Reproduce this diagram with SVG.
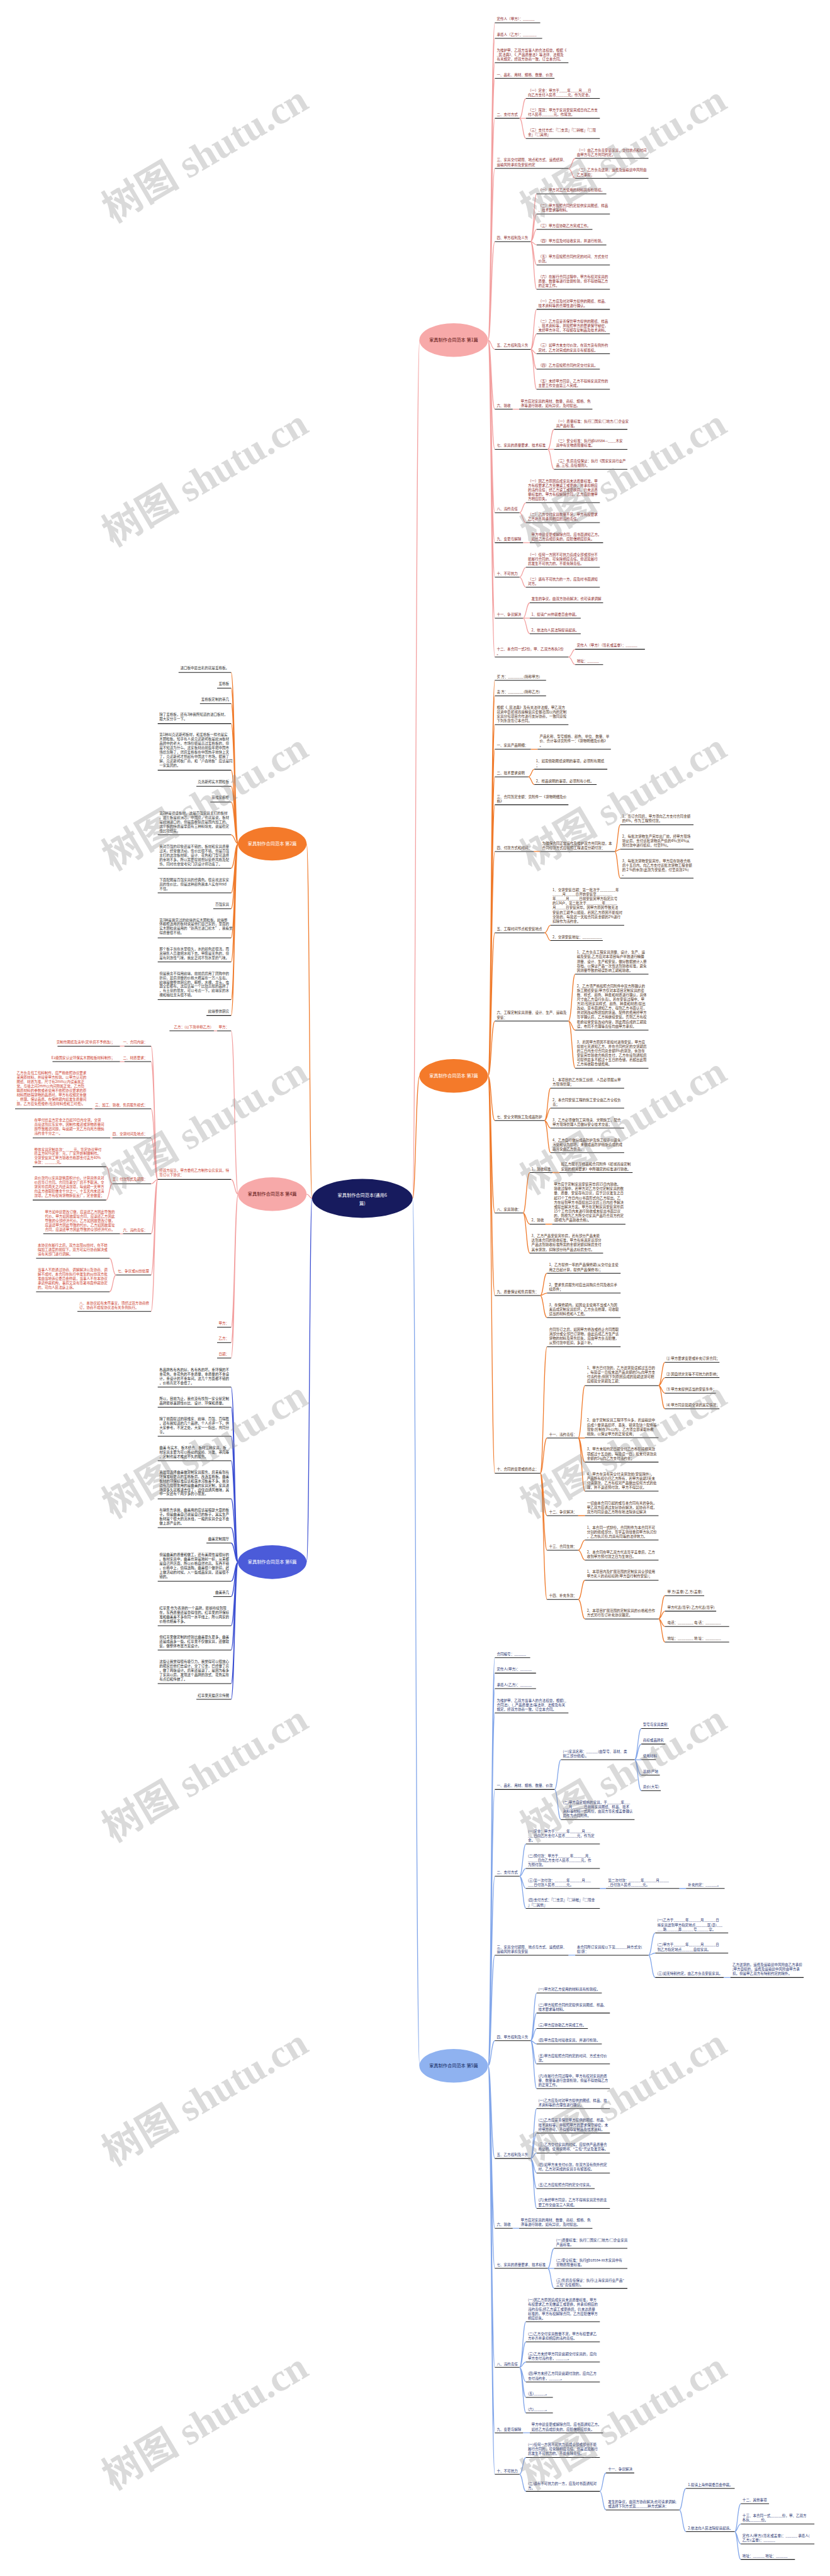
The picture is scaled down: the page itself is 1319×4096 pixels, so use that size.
<svg xmlns="http://www.w3.org/2000/svg" width="1319" height="4096" viewBox="0 0 1319 4096">
<style>
.t{font-family:"Noto Sans CJK SC","Liberation Sans",sans-serif;font-size:10.8px}
.A{fill:#8c1d1d}.B{fill:#4b2c14}.C{fill:#1e3170}.P{fill:#333}.R{fill:#cc3a2a}.K{fill:#222}
.e{text-anchor:end}
.u{stroke:#1a1a1a;stroke-width:2;fill:none}
.ca{stroke:#f3a0a0;stroke-width:2.5;fill:none}
.cb{stroke:#f07b2c;stroke-width:2.5;fill:none}
.cc{stroke:#82a6ea;stroke-width:2.5;fill:none}
.cd{stroke:#3c4fd2;stroke-width:2.5;fill:none}
.wm{font-family:"Liberation Serif","Noto Sans CJK SC",serif;font-size:120px;font-weight:bold;fill:#888;opacity:.3}
.nt{font-family:"Noto Sans CJK SC","Liberation Sans",sans-serif;font-size:14px;text-anchor:middle}
</style>
<rect width="1319" height="4096" fill="#fff"/>
<g transform="scale(0.515)">

<g id="links-root">
<path class="ca" d="M1273 3700C1283 3700 1283 1050 1295 1050"/>
<path class="cb" d="M1273 3700C1283 3700 1283 3322 1295 3322"/>
<path class="cc" d="M1273 3700C1283 3700 1283 6378 1295 6378"/>
<path class="cb" d="M963 3700C955 3700 955 2605 946 2605"/>
<path class="ca" d="M963 3700C955 3700 955 3687 946 3687"/>
<path class="cd" d="M963 3700C955 3700 955 4823 946 4823"/>
</g>

<g id="links-a">
<path class="ca" d="M1506 1050C1516 1050 1516 70.4 1527 70.4M1506 1050C1516 1050 1516 118.4 1527 118.4M1506 1050C1516 1050 1516 193.9 1527 193.9M1506 1050C1516 1050 1516 241.8 1527 241.8M1506 1050C1516 1050 1516 365.3 1527 365.3M1506 1050C1516 1050 1516 520 1527 520M1506 1050C1516 1050 1516 746 1527 746M1506 1050C1516 1050 1516 1078.6 1527 1078.6M1506 1050C1516 1050 1516 1263.3 1527 1263.3M1506 1050C1516 1050 1516 1387.3 1527 1387.3M1506 1050C1516 1050 1516 1583.2 1527 1583.2M1506 1050C1516 1050 1516 1675.5 1527 1675.5M1506 1050C1516 1050 1516 1782 1527 1782M1506 1050C1516 1050 1516 1908.7 1527 1908.7M1506 1050C1516 1050 1516 2028.6 1527 2028.6"/>
<path class="ca" stroke-width="2" d="M1603 365.3C1613 365.3 1613 304 1623 304M1603 365.3H1623M1603 365.3C1613 365.3 1613 427.6 1623 427.6M1754 520C1765 520 1765 488.8 1775 488.8M1754 520C1765 520 1765 550.5 1775 550.5M1637 746C1647 746 1647 598.5 1656 598.5M1637 746C1647 746 1647 660.7 1656 660.7M1637 746C1647 746 1647 708.2 1656 708.2M1637 746C1647 746 1647 756.1 1656 756.1M1637 746C1647 746 1647 817.9 1656 817.9M1637 746C1647 746 1647 893.4 1656 893.4M1637 1078.6C1647 1078.6 1647 955.1 1656 955.1M1637 1078.6C1647 1078.6 1647 1030.6 1656 1030.6M1637 1078.6C1647 1078.6 1647 1092.3 1656 1092.3M1637 1078.6C1647 1078.6 1647 1139.8 1656 1139.8M1637 1078.6C1647 1078.6 1647 1202 1656 1202M1582 1263.3H1602M1690 1387.3C1700 1387.3 1700 1325.5 1710 1325.5M1690 1387.3H1710M1690 1387.3C1700 1387.3 1700 1449 1710 1449M1603 1583.2C1613 1583.2 1613 1552 1623 1552M1603 1583.2C1613 1583.2 1613 1613.8 1623 1613.8M1614 1675.5H1635M1603 1782C1613 1782 1613 1751.5 1623 1751.5M1603 1782C1613 1782 1613 1813.3 1623 1813.3M1614 1908.7C1624 1908.7 1624 1861.2 1635 1861.2M1614 1908.7H1635M1614 1908.7C1624 1908.7 1624 1956.6 1635 1956.6M1754 2028.6C1765 2028.6 1765 2004.6 1775 2004.6M1754 2028.6C1765 2028.6 1765 2052 1775 2052"/>
</g>

<g id="links-b">
<path class="cb" d="M1506 3322C1516 3322 1516 2100.5 1527 2100.5M1506 3322C1516 3322 1516 2148.5 1527 2148.5M1506 3322C1516 3322 1516 2237.2 1527 2237.2M1506 3322C1516 3322 1516 2313.3 1527 2313.3M1506 3322C1516 3322 1516 2398.4 1527 2398.4M1506 3322C1516 3322 1516 2484.7 1527 2484.7M1506 3322C1516 3322 1516 2629 1527 2629M1506 3322C1516 3322 1516 2880 1527 2880M1506 3322C1516 3322 1516 3152.6 1527 3152.6M1506 3322C1516 3322 1516 3459.7 1527 3459.7M1506 3322C1516 3322 1516 3745 1527 3745M1506 3322C1516 3322 1516 4000 1527 4000M1506 3322C1516 3322 1516 4548.5 1527 4548.5"/>
<path class="cb" stroke-width="2" d="M1638 2313.3H1659M1630 2398.4C1640 2398.4 1640 2375 1649 2375M1630 2398.4C1640 2398.4 1640 2422.4 1649 2422.4M1647 2629H1667M1897 2629C1906 2629 1906 2546.4 1914 2546.4M1897 2629C1906 2629 1906 2622 1914 2622M1897 2629C1906 2629 1906 2711.2 1914 2711.2M1680 2880C1690 2880 1690 2856.6 1699 2856.6M1680 2880C1690 2880 1690 2904 1699 2904M1754 3152.6C1765 3152.6 1765 3007.7 1775 3007.7M1754 3152.6C1765 3152.6 1765 3180.6 1775 3180.6M1754 3152.6C1765 3152.6 1765 3298 1775 3298M1680 3459.7C1690 3459.7 1690 3359.7 1699 3359.7M1680 3459.7C1690 3459.7 1690 3421.4 1699 3421.4M1680 3459.7C1690 3459.7 1690 3483.2 1699 3483.2M1680 3459.7C1690 3459.7 1690 3558.7 1699 3558.7M1614 3745C1624 3745 1624 3620.4 1635 3620.4M1614 3745C1624 3745 1624 3779.6 1635 3779.6M1614 3745C1624 3745 1624 3868.9 1635 3868.9M1705 3620.4H1726M1683 3779.6H1704M1667 4000C1677 4000 1677 3931 1688 3931M1667 4000C1677 4000 1677 3992.3 1688 3992.3M1667 4000C1677 4000 1677 4067.9 1688 4067.9M1667 4548.5C1677 4548.5 1677 4158.2 1688 4158.2M1667 4548.5C1677 4548.5 1677 4439.8 1688 4439.8M1667 4548.5C1677 4548.5 1677 4679.6 1688 4679.6M1667 4548.5C1677 4548.5 1677 4786.2 1688 4786.2M1667 4548.5C1677 4548.5 1677 4938.3 1688 4938.3M1784 4439.8C1795 4439.8 1795 4278 1805 4278M1784 4439.8H1805M1784 4439.8C1795 4439.8 1795 4514.3 1805 4514.3M1784 4439.8C1795 4439.8 1795 4604 1805 4604M2032 4278C2042 4278 2042 4206.1 2052 4206.1M2032 4278C2042 4278 2042 4253.6 2052 4253.6M2032 4278C2042 4278 2042 4301.5 2052 4301.5M2032 4278C2042 4278 2042 4349.5 2052 4349.5M1784 4679.6H1805M1784 4786.2C1795 4786.2 1795 4755 1805 4755M1784 4786.2C1795 4786.2 1795 4816.8 1805 4816.8M1784 4938.3C1795 4938.3 1795 4879 1805 4879M1784 4938.3C1795 4938.3 1795 4998.5 1805 4998.5M2032 4998.5C2042 4998.5 2042 4926.5 2052 4926.5M2032 4998.5C2042 4998.5 2042 4974.5 2052 4974.5M2032 4998.5C2042 4998.5 2042 5022 2052 5022M2032 4998.5C2042 4998.5 2042 5070 2052 5070"/>
</g>

<g id="links-c">
<path class="cc" d="M1506 6378C1516 6378 1516 5117.9 1527 5117.9M1506 6378C1516 6378 1516 5165.8 1527 5165.8M1506 6378C1516 6378 1516 5213.8 1527 5213.8M1506 6378C1516 6378 1516 5288.8 1527 5288.8M1506 6378C1516 6378 1516 5525 1527 5525M1506 6378C1516 6378 1516 5792.9 1527 5792.9M1506 6378C1516 6378 1516 6036.7 1527 6036.7M1506 6378C1516 6378 1516 6300.5 1527 6300.5M1506 6378C1516 6378 1516 6664.3 1527 6664.3M1506 6378C1516 6378 1516 6880 1527 6880M1506 6378C1516 6378 1516 7003.6 1527 7003.6M1506 6378C1516 6378 1516 7309.4 1527 7309.4M1506 6378C1516 6378 1516 7511.5 1527 7511.5M1506 6378C1516 6378 1516 7639.5 1527 7639.5"/>
<path class="cc" stroke-width="2" d="M1711 5525C1721 5525 1721 5433.2 1731 5433.2M1711 5525C1721 5525 1721 5617.9 1731 5617.9M1958 5433.2C1968 5433.2 1968 5336.7 1979 5336.7M1958 5433.2C1968 5433.2 1968 5384.7 1979 5384.7M1958 5433.2H1979M1958 5433.2C1968 5433.2 1968 5480.6 1979 5480.6M1958 5433.2C1968 5433.2 1968 5528.6 1979 5528.6M1603 5792.9C1613 5792.9 1613 5693.4 1623 5693.4M1603 5792.9C1613 5792.9 1613 5768.9 1623 5768.9M1603 5792.9C1613 5792.9 1613 5830.6 1623 5830.6M1603 5792.9C1613 5792.9 1613 5892.3 1623 5892.3M1851 5830.6H1870M2096 5830.6H2117M1754 6036.7H1775M2001 6036.7C2011 6036.7 2011 5967.9 2022 5967.9M2001 6036.7C2011 6036.7 2011 6030.1 2022 6030.1M2001 6036.7C2011 6036.7 2011 6105.6 2022 6105.6M2233 6105.6H2254M1637 6300.5C1647 6300.5 1647 6153.6 1656 6153.6M1637 6300.5C1647 6300.5 1647 6215.3 1656 6215.3M1637 6300.5C1647 6300.5 1647 6263.3 1656 6263.3M1637 6300.5C1647 6300.5 1647 6310.7 1656 6310.7M1637 6300.5C1647 6300.5 1647 6372.5 1656 6372.5M1637 6300.5C1647 6300.5 1647 6448.5 1656 6448.5M1637 6664.3C1647 6664.3 1647 6510.2 1656 6510.2M1637 6664.3C1647 6664.3 1647 6585.7 1656 6585.7M1637 6664.3C1647 6664.3 1647 6647.4 1656 6647.4M1637 6664.3C1647 6664.3 1647 6709.2 1656 6709.2M1637 6664.3C1647 6664.3 1647 6757.1 1656 6757.1M1637 6664.3C1647 6664.3 1647 6818.4 1656 6818.4M1582 6880H1602M1690 7003.6C1700 7003.6 1700 6941.8 1710 6941.8M1690 7003.6H1710M1690 7003.6C1700 7003.6 1700 7065.3 1710 7065.3M1603 7309.4C1613 7309.4 1613 7168.4 1623 7168.4M1603 7309.4C1613 7309.4 1613 7230.6 1623 7230.6M1603 7309.4C1613 7309.4 1613 7292.7 1623 7292.7M1603 7309.4C1613 7309.4 1613 7354.3 1623 7354.3M1603 7309.4C1613 7309.4 1613 7402 1623 7402M1603 7309.4C1613 7309.4 1613 7449.8 1623 7449.8M1614 7511.5H1635M1603 7639.5C1613 7639.5 1613 7587.4 1623 7587.4M1603 7639.5C1613 7639.5 1613 7692 1623 7692M1851 7692C1860 7692 1860 7635.2 1870 7635.2M1851 7692C1860 7692 1860 7749.4 1870 7749.4M2096 7749.4C2106 7749.4 2106 7683 2117 7683M2096 7749.4C2106 7749.4 2106 7816.7 2117 7816.7M2267 7816.7C2276 7816.7 2276 7730.3 2286 7730.3M2267 7816.7C2276 7816.7 2276 7792.8 2286 7792.8M2267 7816.7C2276 7816.7 2276 7854.4 2286 7854.4M2267 7816.7C2276 7816.7 2276 7902.2 2286 7902.2"/>
</g>

<g id="links-l2">
<path class="cb" d="M735 2605C724 2605 724 2076.2 713 2076.2M735 2605C724 2605 724 2124.7 713 2124.7M735 2605C724 2605 724 2172.2 713 2172.2M735 2605C724 2605 724 2234.2 713 2234.2M735 2605C724 2605 724 2377.9 713 2377.9M735 2605C724 2605 724 2427.5 713 2427.5M735 2605C724 2605 724 2476 713 2476M735 2605C724 2605 724 2577.3 713 2577.3M735 2605C724 2605 724 2680.6 713 2680.6M735 2605C724 2605 724 2757 713 2757M735 2605C724 2605 724 2805.6 713 2805.6M735 2605C724 2605 724 2895.5 713 2895.5M735 2605C724 2605 724 2969.9 713 2969.9M735 2605C724 2605 724 3086.6 713 3086.6M735 2605C724 2605 724 3135.2 713 3135.2"/>
</g>
<g id="links-l4">
<path class="ca" d="M735 3687C724 3687 724 3182.7 713 3182.7M735 3687C724 3687 724 3641.5 713 3641.5M735 3687C724 3687 724 4097.7 713 4097.7M735 3687C724 3687 724 4145.2 713 4145.2M735 3687C724 3687 724 4192.8 713 4192.8"/>
<path class="ca" stroke-width="2" d="M670 3182.7H660M487 3641.5C477 3641.5 477 3230 466 3230M487 3641.5C477 3641.5 477 3277.8 466 3277.8M487 3641.5C477 3641.5 477 3423.4 466 3423.4M487 3641.5C477 3641.5 477 3513.3 466 3513.3M487 3641.5C477 3641.5 477 3655 466 3655M487 3641.5C477 3641.5 477 3809.4 466 3809.4M487 3641.5C477 3641.5 477 3936.5 466 3936.5M487 3641.5C477 3641.5 477 4049.1 466 4049.1M384 3230H370M384 3277.8H370M292.6 3423.4H285M347 3513.3H340M347 3655C337 3655 337 3602.2 327.5 3602.2M347 3655C337 3655 337 3705.1 327.5 3705.1M379.6 3809.4H370M358 3936.5C348 3936.5 348 3884.9 338 3884.9M358 3936.5C348 3936.5 348 3988.2 338 3988.2"/>
</g>
<g id="links-l6">
<path class="cd" d="M735 4823C724 4823 724 4282.7 713 4282.7M735 4823C724 4823 724 4344.6 713 4344.6M735 4823C724 4823 724 4434.5 713 4434.5M735 4823C724 4823 724 4510 713 4510M735 4823C724 4823 724 4627.7 713 4627.7M735 4823C724 4823 724 4716.6 713 4716.6M735 4823C724 4823 724 4764.1 713 4764.1M735 4823C724 4823 724 4881.9 713 4881.9M735 4823C724 4823 724 4929.4 713 4929.4M735 4823C724 4823 724 5019.3 713 5019.3M735 4823C724 4823 724 5094.7 713 5094.7M735 4823C724 4823 724 5198.1 713 5198.1M735 4823C724 4823 724 5246.6 713 5246.6"/>
</g>

<g id="root"><ellipse cx="1118" cy="3700" rx="155" ry="60" fill="#171b5e"/><text class="nt" x="1118" y="3695" fill="#fff" font-size="20">家具制作合同范本(通用6<tspan x="1118" dy="26">篇)</tspan></text></g>
<g id="n1"><ellipse cx="1400" cy="1050" rx="106" ry="52" fill="#f7a9a9"/><text class="nt" x="1400" y="1055" fill="#5a1010">家具制作合同范本 第1篇</text></g>
<g id="n3"><ellipse cx="1400" cy="3322" rx="106" ry="52" fill="#f47a2a"/><text class="nt" x="1400" y="3327" fill="#fff">家具制作合同范本 第3篇</text></g>
<g id="n5"><ellipse cx="1400" cy="6378" rx="106" ry="52" fill="#8fb2f0"/><text class="nt" x="1400" y="6383" fill="#14285e">家具制作合同范本 第5篇</text></g>
<g id="n2"><ellipse cx="840" cy="2605" rx="106" ry="52" fill="#f47a2a"/><text class="nt" x="840" y="2610" fill="#fff">家具制作合同范本 第2篇</text></g>
<g id="n4"><ellipse cx="840" cy="3687" rx="106" ry="52" fill="#f7a9a9"/><text class="nt" x="840" y="3692" fill="#5a1010">家具制作合同范本 第4篇</text></g>
<g id="n6"><ellipse cx="840" cy="4823" rx="106" ry="52" fill="#4b5bd9"/><text class="nt" x="840" y="4828" fill="#fff">家具制作合同范本 第6篇</text></g>

<g id="sec-a">
<g id="a1"><text class="t A" x="1533" y="62.7">定作人（甲方）：______</text><path class="u" d="M1527 70.4H1667"/></g>
<g id="a2"><text class="t A" x="1533" y="111">承揽人（乙方）：_______</text><path class="u" d="M1527 118.4H1673"/></g>
<g id="a3"><text class="t A" x="1533" y="158.6">为维护甲、乙双方当事人的合法权益，根据《<tspan x="1533" dy="13.8">_民法典》、《_产品质量法》等法律、法规及</tspan><tspan x="1533" dy="13.8">有关规定，经双方协商一致，订立本合同。</tspan></text><path class="u" d="M1527 193.9H1754"/></g>
<g id="a4"><text class="t A" x="1533" y="234.6">一、品名、用材、规格、数量、价款</text><path class="u" d="M1527 241.8H1711"/></g>
<g id="a5"><text class="t A" x="1533" y="358">二、支付方式</text><path class="u" d="M1527 365.3H1603"/></g>
<g id="a5a"><text class="t A" x="1629" y="282.6">（一）定金：甲方于____年____月___日<tspan x="1629" dy="13.8">向乙方支付人民币______元，作为定金。</tspan></text><path class="u" d="M1623 304H1851"/></g>
<g id="a5b"><text class="t A" x="1629" y="344.3">（二）尾款：甲方于家具安装完成日向乙方支<tspan x="1629" dy="13.8">付人民币______元，作尾款。</tspan></text><path class="u" d="M1623 365.3H1851"/></g>
<g id="a5c"><text class="t A" x="1629" y="406">（三）支付方式：『□支票』『□转帐』『□现<tspan x="1629" dy="13.8">金』『□其他』</tspan></text><path class="u" d="M1623 427.6H1851"/></g>
<g id="a6"><text class="t A" x="1533" y="498">三、家具交付期限、地点和方式、运费结算、<tspan x="1533" dy="13.8">运输风险承担及安装约定</tspan></text><path class="u" d="M1527 520H1754"/></g>
<g id="a6a"><text class="t A" x="1780" y="467.3">（一）由乙方负责安装家具，交付地点和时间<tspan x="1780" dy="13.8">由甲方与乙方共同约定。</tspan></text><path class="u" d="M1775 488.8H2001"/></g>
<g id="a6b"><text class="t A" x="1780" y="529">（二）乙方负责送货，运费及运输途中风险由<tspan x="1780" dy="13.8">乙方承担；</tspan></text><path class="u" d="M1775 550.5H2001"/></g>
<g id="a7"><text class="t A" x="1533" y="738.7">四、甲方权利及义务</text><path class="u" d="M1527 746H1637"/></g>
<g id="a7a"><text class="t A" x="1661" y="590.7">（一）甲方对乙方使用的材料具有检验权。</text><path class="u" d="M1656 598.5H1871"/></g>
<g id="a7b"><text class="t A" x="1661" y="638.2">（二）甲方按照合同约定提供家具图纸、样品<tspan x="1661" dy="13.8">、技术要求等材料。</tspan></text><path class="u" d="M1656 660.7H1882"/></g>
<g id="a7c"><text class="t A" x="1661" y="700">（三）甲方应协助乙方完成工作。</text><path class="u" d="M1656 708.2H1828"/></g>
<g id="a7d"><text class="t A" x="1661" y="748.4">（四）甲方应及时接收家具，并进行检验。</text><path class="u" d="M1656 756.1H1871"/></g>
<g id="a7e"><text class="t A" x="1661" y="795.8">（五）甲方应按照合同约定的时间、方式支付<tspan x="1661" dy="13.8">价款。</tspan></text><path class="u" d="M1656 817.9H1882"/></g>
<g id="a7f"><text class="t A" x="1661" y="857.6">（六）在履行合同过程中，甲方有权对家具的<tspan x="1661" dy="13.8">质量、数量等进行监督检验，但不得妨碍乙方</tspan><tspan x="1661" dy="13.8">的正常工作。</tspan></text><path class="u" d="M1656 893.4H1882"/></g>
<g id="a8"><text class="t A" x="1533" y="1070.8">五、乙方权利及义务</text><path class="u" d="M1527 1078.6H1637"/></g>
<g id="a8a"><text class="t A" x="1661" y="933.6">（一）乙方应及时对甲方提供的图纸、样品、<tspan x="1661" dy="13.8">技术资料等的合理性进行确认。</tspan></text><path class="u" d="M1656 955.1H1882"/></g>
<g id="a8b"><text class="t A" x="1661" y="995.3">（二）乙方应妥善保管甲方提供的图纸、样品<tspan x="1661" dy="13.8">、技术资料等，并按照甲方的要求保守秘密，</tspan><tspan x="1661" dy="13.8">未经甲方许可，不得留存复制品及技术资料。</tspan></text><path class="u" d="M1656 1030.6H1882"/></g>
<g id="a8c"><text class="t A" x="1661" y="1070.8">（三）如甲方未支付价款，在双方没有例外约<tspan x="1661" dy="13.8">定时，乙方对完成的家具享有留置权。</tspan></text><path class="u" d="M1656 1092.3H1882"/></g>
<g id="a8d"><text class="t A" x="1661" y="1132.6">（四）乙方应按照合同约定交付家具。</text><path class="u" d="M1656 1139.8H1851"/></g>
<g id="a8e"><text class="t A" x="1661" y="1180.5">（五）未经甲方同意，乙方不得将家具定作的<tspan x="1661" dy="13.8">主要工作交由第三人完成。</tspan></text><path class="u" d="M1656 1202H1882"/></g>
<g id="a9"><text class="t A" x="1533" y="1255.5">六、验收</text><path class="u" d="M1527 1263.3H1582"/></g>
<g id="a9a"><text class="t A" x="1607" y="1241.8">甲方应对家具的用材、数量、商标、规格、色<tspan x="1607" dy="13.8">泽等进行验收，如有异议，及时提出。</tspan></text><path class="u" d="M1602 1263.3H1828"/></g>
<g id="a10"><text class="t A" x="1533" y="1379.5">七、家具的质量要求、技术标准</text><path class="u" d="M1527 1387.3H1690"/></g>
<g id="a10a"><text class="t A" x="1716" y="1304">（一）质量标准：执行□国家/□地方/□企业家<tspan x="1716" dy="13.8">具产品标准。</tspan></text><path class="u" d="M1710 1325.5H1936"/></g>
<g id="a10b"><text class="t A" x="1716" y="1365.7">（二）安全标准：执行gb18584—____木家<tspan x="1716" dy="13.8">具中有害物质限量标准。</tspan></text><path class="u" d="M1710 1387.3H1936"/></g>
<g id="a10c"><text class="t A" x="1716" y="1427.5">（三）售后责任保证：执行《国家家具行业产<tspan x="1716" dy="13.8">品_三包_责任规则》。</tspan></text><path class="u" d="M1710 1449H1936"/></g>
<g id="a11"><text class="t A" x="1533" y="1575.4">八、违约责任</text><path class="u" d="M1527 1583.2H1603"/></g>
<g id="a11a"><text class="t A" x="1629" y="1488.7">（一）因乙方原因造成家具未达质量标准，甲<tspan x="1629" dy="13.8">方有权要求乙方无偿返工或更换，并承担相应</tspan><tspan x="1629" dy="13.8">的违约责任；经乙方返工或更换后，仍未达质</tspan><tspan x="1629" dy="13.8">量标准的，甲方有权解除合同，乙方应赔偿甲</tspan><tspan x="1629" dy="13.8">方相应损失。</tspan></text><path class="u" d="M1623 1552H1851"/></g>
<g id="a11b"><text class="t A" x="1629" y="1592.8">（二）乙方交付家具数量不足，甲方有权要求<tspan x="1629" dy="13.8">乙方补齐并承担相应的违约责任。</tspan></text><path class="u" d="M1623 1613.8H1851"/></g>
<g id="a12"><text class="t A" x="1533" y="1667.8">九、变更与解除</text><path class="u" d="M1527 1675.5H1614"/></g>
<g id="a12a"><text class="t A" x="1640" y="1654">甲方中途变更或解除合同，应书面通知乙方。<tspan x="1640" dy="13.8">如给乙方造成损失的，应赔偿相应损失。</tspan></text><path class="u" d="M1635 1675.5H1861"/></g>
<g id="a13"><text class="t A" x="1533" y="1774.4">十、不可抗力</text><path class="u" d="M1527 1782H1603"/></g>
<g id="a13a"><text class="t A" x="1629" y="1715.7">（一）任何一方因不可抗力造成全部或部分不<tspan x="1629" dy="13.8">能履行合同的，可免除相应责任。但迟延履行</tspan><tspan x="1629" dy="13.8">后发生不可抗力的，不能免除责任。</tspan></text><path class="u" d="M1623 1751.5H1851"/></g>
<g id="a13b"><text class="t A" x="1629" y="1791.8">（二）遇有不可抗力的一方，应及时书面通知<tspan x="1629" dy="13.8">对方。</tspan></text><path class="u" d="M1623 1813.3H1851"/></g>
<g id="a14"><text class="t A" x="1533" y="1901">十一、争议解决</text><path class="u" d="M1527 1908.7H1614"/></g>
<g id="a14a"><text class="t A" x="1640" y="1853">发生的争议，由双方协商解决；也可请求调解</text><path class="u" d="M1635 1861.2H1861"/></g>
<g id="a14b"><text class="t A" x="1640" y="1901">1、提请广州仲裁委员会仲裁。</text><path class="u" d="M1635 1908.7H1792"/></g>
<g id="a14c"><text class="t A" x="1640" y="1949">2、依法向人民法院提请起诉。</text><path class="u" d="M1635 1956.6H1792"/></g>
<g id="a15"><text class="t A" x="1533" y="2007">十二、本合同一式2份，甲、乙双方各执1份<tspan x="1533" dy="13.8">。</tspan></text><path class="u" d="M1527 2028.6H1754"/></g>
<g id="a15a"><text class="t A" x="1780" y="1996.9">定作人（甲方）（签名或盖章）：______</text><path class="u" d="M1775 2004.6H1990"/></g>
<g id="a15b"><text class="t A" x="1780" y="2044.3">地址：______</text><path class="u" d="M1775 2052H1861"/></g>
</g>

<g id="sec-b">
<g id="b1"><text class="t B" x="1533" y="2092.8">买 方：________(简称甲方)</text><path class="u" d="M1527 2100.5H1685"/></g>
<g id="b2"><text class="t B" x="1533" y="2140.2">卖 方：________(简称乙方)</text><path class="u" d="M1527 2148.5H1685"/></g>
<g id="b3"><text class="t B" x="1533" y="2188.2">根据《_民法典》及有关法律法规，甲乙双方<tspan x="1533" dy="13.8">就资中县船城首座精装房套餐范围以内的定制</tspan><tspan x="1533" dy="13.8">家具分包项目合作进行友好协商，一致同意按</tspan><tspan x="1533" dy="13.8">下列条款签订本合同。</tspan></text><path class="u" d="M1527 2237.2H1754"/></g>
<g id="b4"><text class="t B" x="1533" y="2305.5">一、家具产品明细：</text><path class="u" d="M1527 2313.3H1638"/></g>
<g id="b4a"><text class="t B" x="1665" y="2277.5">产品名称、型号规格、颜色、单位、数量、单<tspan x="1665" dy="13.8">价、合计等详见附件一：《货物明细及价格》</tspan><tspan x="1665" dy="13.8">。</tspan></text><path class="u" d="M1659 2313.3H1885"/></g>
<g id="b5"><text class="t B" x="1533" y="2390.7">二、技术要求说明</text><path class="u" d="M1527 2398.4H1630"/></g>
<g id="b5a"><text class="t B" x="1654" y="2353.5">1、如需借助图纸说明的事项，必须附有图纸<tspan x="1654" dy="13.8">；</tspan></text><path class="u" d="M1649 2375H1874"/></g>
<g id="b5b"><text class="t B" x="1654" y="2415.2">2、样品说明的事项，必须附有小样。</text><path class="u" d="M1649 2422.4H1841"/></g>
<g id="b6"><text class="t B" x="1533" y="2463.2">三、合同暂定金额：见附件一《货物明细及价<tspan x="1533" dy="13.8">格》</tspan></text><path class="u" d="M1527 2484.7H1754"/></g>
<g id="b7"><text class="t B" x="1533" y="2621.3">四、付款方式和时间：</text><path class="u" d="M1527 2629H1647"/></g>
<g id="b7a"><text class="t B" x="1673" y="2607.6">为确保合同正常运作及维护双方共同利益，本<tspan x="1673" dy="13.8">合同付款方式应按照工程进度分期付款：</tspan></text><path class="u" d="M1667 2629H1897"/></g>
<g id="b7a1"><text class="t B" x="1920" y="2525">1、签订合同后，甲方须向乙方支付合同金额<tspan x="1920" dy="13.8">的4%，作为工程预付款。</tspan></text><path class="u" d="M1914 2546.4H2140"/></g>
<g id="b7a2"><text class="t B" x="1920" y="2586.7">2、每批次货物生产完毕出厂前，经甲方现场<tspan x="1920" dy="13.8">验证后，支付该批货物总产值的4%(另4%从</tspan><tspan x="1920" dy="13.8">预付款中进行抵扣，付至8%)。</tspan></text><path class="u" d="M1914 2622H2140"/></g>
<g id="b7a3"><text class="t B" x="1920" y="2662.2">3、每批次货物安装完毕，甲方应在验收合格<tspan x="1920" dy="13.8">后十五日内，向乙方支付该批次货物工程金额</tspan><tspan x="1920" dy="13.8">的２%的余款(此款为安装费，付至总款1%)</tspan><tspan x="1920" dy="13.8">。</tspan></text><path class="u" d="M1914 2711.2H2140"/></g>
<g id="b8"><text class="t B" x="1533" y="2872.4">五、工程时间节点和安装地点</text><path class="u" d="M1527 2880H1680"/></g>
<g id="b8a"><text class="t B" x="1705" y="2751.5">1、交货安装日期：第一批次于________年<tspan x="1705" dy="13.8">_____月_____日开始安装至________</tspan><tspan x="1705" dy="13.8">年_____月_____日前安装完甲方指定房号</tspan><tspan x="1705" dy="13.8">的134户，第二批次于________年______</tspan><tspan x="1705" dy="13.8">月_____日安装完毕。因甲方原因导致无法</tspan><tspan x="1705" dy="13.8">安装的工期予以顺延，若因乙方原因不能按时</tspan><tspan x="1705" dy="13.8">交验的，每延迟一天按合同总金额的2%进行</tspan><tspan x="1705" dy="13.8">扣除作为违约金。</tspan></text><path class="u" d="M1699 2856.6H1926"/></g>
<g id="b8b"><text class="t B" x="1705" y="2896.3">2、交货安装地址：__________</text><path class="u" d="M1699 2904H1860"/></g>
<g id="b9"><text class="t B" x="1533" y="3131">六、工程定制家具测量、设计、生产、运输及<tspan x="1533" dy="13.8">安装：</tspan></text><path class="u" d="M1527 3152.6H1754"/></g>
<g id="b9a"><text class="t B" x="1780" y="2944.3">1、乙方负责工程家具测量、设计、生产、运<tspan x="1780" dy="13.8">输及安装,乙方应对本项目每户单独进行精确</tspan><tspan x="1780" dy="13.8">测量、设计、生产和安装，做好数据统计入册</tspan><tspan x="1780" dy="13.8">存档，以保证产品一次性达到验收标准，避免</tspan><tspan x="1780" dy="13.8">因测量导致的错误影响工期和验收。</tspan></text><path class="u" d="M1775 3007.7H2001"/></g>
<g id="b9b"><text class="t B" x="1780" y="3047.9">2、乙方须严格按照合同附件中双方所确认的<tspan x="1780" dy="13.8">施工图纸安装(甲方仅对本项目定制家具的套</tspan><tspan x="1780" dy="13.8">数、样式、颜色、种类和材质进行确认，具体</tspan><tspan x="1780" dy="13.8">尺寸由乙方自行负责)。若在安装过程中，甲</tspan><tspan x="1780" dy="13.8">方对(包括家具样式、颜色、种类和材质)提出</tspan><tspan x="1780" dy="13.8">改动，需书面通知乙方，得到乙方书面认可，</tspan><tspan x="1780" dy="13.8">并对因改动所增加的货品、配件的费用经甲方</tspan><tspan x="1780" dy="13.8">签字确认后，乙方将继续安装。否则乙方有权</tspan><tspan x="1780" dy="13.8">拒绝接受安装改动内容，因此而造成的工期延</tspan><tspan x="1780" dy="13.8">误，布局不合理等责任均由甲方承担。</tspan></text><path class="u" d="M1775 3180.6H2001"/></g>
<g id="b9c"><text class="t B" x="1780" y="3220.8">3、若因甲方原因不能按时进场安装，甲方应<tspan x="1780" dy="13.8">提前七天通知乙方，并在合同约定的交货期后</tspan><tspan x="1780" dy="13.8">的三日内支付合同总金额8%的货款，余款在</tspan><tspan x="1780" dy="13.8">安装完毕验收合格后支付，乙方在接到通知后</tspan><tspan x="1780" dy="13.8">可提供最多不超过十五日的仓储，若超出此限</tspan><tspan x="1780" dy="13.8">乙方将收取仓储费用。</tspan></text><path class="u" d="M1775 3298H2001"/></g>
<g id="b10"><text class="t B" x="1533" y="3452">七、安全文明施工及成品防护</text><path class="u" d="M1527 3459.7H1680"/></g>
<g id="b10a"><text class="t B" x="1705" y="3338.2">1、本项目的乙方施工班组、人员必须服从甲<tspan x="1705" dy="13.8">方现场管理；</tspan></text><path class="u" d="M1699 3359.7H1926"/></g>
<g id="b10b"><text class="t B" x="1705" y="3400">2、本合同安装工程的施工安全由乙方全权负<tspan x="1705" dy="13.8">责；</tspan></text><path class="u" d="M1699 3421.4H1926"/></g>
<g id="b10c"><text class="t B" x="1705" y="3461.7">3、乙方必须做到工完场清、文明施工，配合<tspan x="1705" dy="13.8">甲方现场管理人员做好安全技术交底；</tspan></text><path class="u" d="M1699 3483.2H1926"/></g>
<g id="b10d"><text class="t B" x="1705" y="3523.4">4、乙方自行做好成品防护及施工提示以避免<tspan x="1705" dy="13.8">污染和认为损坏，未做成品防护措施造成的成</tspan><tspan x="1705" dy="13.8">品污染由乙方负责。</tspan></text><path class="u" d="M1699 3558.7H1926"/></g>
<g id="b11"><text class="t B" x="1533" y="3737.2">八、家具验收：</text><path class="u" d="M1527 3745H1614"/></g>
<g id="b11a"><text class="t B" x="1640" y="3612.7">1、验收标准</text><path class="u" d="M1635 3620.4H1705"/></g>
<g id="b11a1"><text class="t B" x="1731" y="3599">按乙方展示厅样品和合同附件《船城首座定制<tspan x="1731" dy="13.8">家具的相关要求》中所确定的标准进行验收。</tspan></text><path class="u" d="M1726 3620.4H1952"/></g>
<g id="b11b"><text class="t B" x="1640" y="3771.3">2、验收</text><path class="u" d="M1635 3779.6H1683"/></g>
<g id="b11b1"><text class="t B" x="1709" y="3660.6">甲方应于定制家具安装完毕后15日内验收。<tspan x="1709" dy="13.8">验收过程中，若甲方对乙方交付定制家具的数</tspan><tspan x="1709" dy="13.8">量、质量、安装存有异议，应于异议发生之日</tspan><tspan x="1709" dy="13.8">起15个工作日内以书面形式向乙方提出。乙</tspan><tspan x="1709" dy="13.8">方在接到甲方书面提出异议后三日内给予解决</tspan><tspan x="1709" dy="13.8">或提出解决方案。甲方在定制家具安装完毕后</tspan><tspan x="1709" dy="13.8">15个工作日内未进行验收或未提出书面异议</tspan><tspan x="1709" dy="13.8">的，则视为乙方所交付家具产品符合双方约定</tspan><tspan x="1709" dy="13.8">(即视为产品验收合格)。</tspan></text><path class="u" d="M1704 3779.6H1930"/></g>
<g id="b11c"><text class="t B" x="1640" y="3819.8">3、乙方产品安装完毕后，若有部分产品未能<tspan x="1640" dy="13.8">达到本合同的验收标准，甲方有将满足该部分</tspan><tspan x="1640" dy="13.8">产品达到验收标准所需的金额足额扣除后支付</tspan><tspan x="1640" dy="13.8">其余货款，扣除部分待产品达标后支付。</tspan></text><path class="u" d="M1635 3868.9H1861"/></g>
<g id="b12"><text class="t B" x="1533" y="3992.2">九、质量保证和售后服务：</text><path class="u" d="M1527 4000H1667"/></g>
<g id="b12a"><text class="t B" x="1694" y="3909.6">1、乙方提供一年的产品保修期(从交付业主使<tspan x="1694" dy="13.8">用之日起计算，提供产品保修书)；</tspan></text><path class="u" d="M1688 3931H1915"/></g>
<g id="b12b"><text class="t B" x="1694" y="3970.8">2、要求售后服务时应出具购房合同及收房手<tspan x="1694" dy="13.8">续原件；</tspan></text><path class="u" d="M1688 3992.3H1915"/></g>
<g id="b12c"><text class="t B" x="1694" y="4032.6">3、在保修期内，如因业主使用不当或人为因<tspan x="1694" dy="13.8">素造成定制家具损坏，乙方负责修理，可收取</tspan><tspan x="1694" dy="13.8">适当的材料费和人工费。</tspan></text><path class="u" d="M1688 4067.9H1915"/></g>
<g id="b13"><text class="t B" x="1533" y="4540.7">十、合同的变更或终终止：</text><path class="u" d="M1527 4548.5H1667"/></g>
<g id="b13a"><text class="t B" x="1694" y="4108.6">合同签订之后，如因甲方修改或终止合同而取<tspan x="1694" dy="13.8">消部分或全部已订货物，由此造成乙方生产该</tspan><tspan x="1694" dy="13.8">货物的材料及劳务损失，应由甲方负责赔偿，</tspan><tspan x="1694" dy="13.8">从预付款中抵扣，多退少补。</tspan></text><path class="u" d="M1688 4158.2H1915"/></g>
<g id="b13b"><text class="t B" x="1694" y="4432.6">十一、违约责任：</text><path class="u" d="M1688 4439.8H1784"/></g>
<g id="b13b1"><text class="t B" x="1811" y="4227.5">1、甲方已付款的，乙方送货延误超过五日的<tspan x="1811" dy="13.8">，每延误一日按未送产品总额的5‰向甲方支</tspan><tspan x="1811" dy="13.8">付违约金;但因下列原因造成的延期送货可相</tspan><tspan x="1811" dy="13.8">应顺延交货期及工期：</tspan></text><path class="u" d="M1805 4278H2032"/></g>
<g id="b13b1a"><text class="t B" x="2057" y="4197.9">⑴ 甲方要求变更或补充订货合同；</text><path class="u" d="M2052 4206.1H2220"/></g>
<g id="b13b1b"><text class="t B" x="2057" y="4245.8">⑵ 因自然灾害等不可抗力的影响；</text><path class="u" d="M2052 4253.6H2220"/></g>
<g id="b13b1c"><text class="t B" x="2057" y="4293.8">⑶ 甲方未提供适当的安装条件；</text><path class="u" d="M2052 4301.5H2209"/></g>
<g id="b13b1d"><text class="t B" x="2057" y="4341.8">⑷ 甲方同意延期交货的其它情况；</text><path class="u" d="M2052 4349.5H2220"/></g>
<g id="b13b2"><text class="t B" x="1811" y="4389.2">2、由于定制家具工程环节众多，若运输途中<tspan x="1811" dy="13.8">造成少量货品损坏、丢失、错货及缺少配件等</tspan><tspan x="1811" dy="13.8">现象(控制在3%以内)，乙方须立即采取补救</tspan><tspan x="1811" dy="13.8">措施，以保证甲方的正常使用；</tspan></text><path class="u" d="M1805 4438.8H2032"/></g>
<g id="b13b3"><text class="t B" x="1811" y="4478.5">3、甲方未按约定日期交付乙方各阶段相关款<tspan x="1811" dy="13.8">项超过十五日的，每延误一日，按未付货款总</tspan><tspan x="1811" dy="13.8">金额的5‰向乙方支付违约金；</tspan></text><path class="u" d="M1805 4514.3H2032"/></g>
<g id="b13b4"><text class="t B" x="1811" y="4554.5">4、甲方在没有完全付清货款前(安装除外)，<tspan x="1811" dy="13.8">产品所有权仍归乙方所有，若甲方逾期3天未</tspan><tspan x="1811" dy="13.8">付清货款，乙方有权对产品做出任何方式的处</tspan><tspan x="1811" dy="13.8">理，并不退还预付款，甲方不得异议。</tspan></text><path class="u" d="M1805 4604H2032"/></g>
<g id="b13c"><text class="t B" x="1694" y="4671.8">十二、争议解决：</text><path class="u" d="M1688 4679.6H1784"/></g>
<g id="b13c1"><text class="t B" x="1811" y="4643.8">一切由本合同引起的或与本合同有关的争执，<tspan x="1811" dy="13.8">甲乙双方应通过友好协商解决，如协商不成，</tspan><tspan x="1811" dy="13.8">双方均同意由乙方所在地法院诉讼解决</tspan></text><path class="u" d="M1805 4679.6H2032"/></g>
<g id="b13d"><text class="t B" x="1694" y="4778">十三、合同生效：</text><path class="u" d="M1688 4786.2H1784"/></g>
<g id="b13d1"><text class="t B" x="1811" y="4719.8">1、本合同一式肆份，合同附件为本合同不可<tspan x="1811" dy="13.8">分割的组成部分，签字盖骑缝章后甲方执贰份</tspan><tspan x="1811" dy="13.8">，乙方执贰份,均具有同等的法律效力。</tspan></text><path class="u" d="M1805 4755H2032"/></g>
<g id="b13d2"><text class="t B" x="1811" y="4795.3">2、本合同在甲乙双方代表签字盖章后，乙方<tspan x="1811" dy="13.8">收到甲方预付款之日为生效日。</tspan></text><path class="u" d="M1805 4816.8H2032"/></g>
<g id="b13e"><text class="t B" x="1694" y="4930.5">十四、补充条款：</text><path class="u" d="M1688 4938.3H1784"/></g>
<g id="b13e1"><text class="t B" x="1811" y="4857">1、本项目内及扩展范围的定制家具全部使用<tspan x="1811" dy="13.8">甲方名义的商标标牌(甲方自行制作安装)；</tspan></text><path class="u" d="M1805 4879H2032"/></g>
<g id="b13e2"><text class="t B" x="1811" y="4976.4">2、本项目扩展范围的定制家具的价格和合作<tspan x="1811" dy="13.8">方式另行签订补充协议确定。</tspan></text><path class="u" d="M1805 4998.5H2032"/></g>
<g id="b13e2a"><text class="t B" x="2059" y="4918.8">甲 方(盖章) 乙 方(盖章)</text><path class="u" d="M2052 4926.5H2173"/></g>
<g id="b13e2b"><text class="t B" x="2059" y="4966.2">甲方代表(签字) 乙方代表(签字)</text><path class="u" d="M2052 4974.5H2210"/></g>
<g id="b13e2c"><text class="t B" x="2059" y="5014.2">电话：________ 电 话：________</text><path class="u" d="M2052 5022H2250"/></g>
<g id="b13e2d"><text class="t B" x="2059" y="5062.2">地址：________ 地 址：________</text><path class="u" d="M2052 5070H2250"/></g>
</g>

<g id="sec-c">
<g id="c1"><text class="t C" x="1533" y="5110">合同编号：______</text><path class="u" d="M1527 5117.9H1636"/></g>
<g id="c2"><text class="t C" x="1533" y="5158">定作人(甲方)：______</text><path class="u" d="M1527 5165.8H1654"/></g>
<g id="c3"><text class="t C" x="1533" y="5206">承揽人(乙方)：______</text><path class="u" d="M1527 5213.8H1654"/></g>
<g id="c4"><text class="t C" x="1533" y="5254">为维护甲、乙双方当事人的合法权益，根据(_<tspan x="1533" dy="13.8">合同法)、(_产品质量法)等法律、法规及有关</tspan><tspan x="1533" dy="13.8">规定，经双方协商一致，订立本合同。</tspan></text><path class="u" d="M1527 5288.8H1754"/></g>
<g id="c5"><text class="t C" x="1533" y="5517.3">一、品名、用材、规格、数量、价款</text><path class="u" d="M1527 5525H1711"/></g>
<g id="c5a"><text class="t C" x="1737" y="5411">(一)家具名称：______(由型号、基材、类<tspan x="1737" dy="13.8">别三部分组成)。</tspan></text><path class="u" d="M1731 5433.2H1958"/></g>
<g id="c5a1"><text class="t C" x="1984" y="5329">型号与家具类别</text><path class="u" d="M1979 5336.7H2064"/></g>
<g id="c5a2"><text class="t C" x="1984" y="5377">商标或品牌名</text><path class="u" d="M1979 5384.7H2053"/></g>
<g id="c5a3"><text class="t C" x="1984" y="5425">使用材料</text><path class="u" d="M1979 5432.7H2024"/></g>
<g id="c5a4"><text class="t C" x="1984" y="5472.9">基材/产地</text><path class="u" d="M1979 5480.6H2036"/></g>
<g id="c5a5"><text class="t C" x="1984" y="5520.3">总价(大写)</text><path class="u" d="M1979 5528.6H2039"/></g>
<g id="c5b"><text class="t C" x="1737" y="5568.3">(二)甲方自定规格的家具，于_______年___<tspan x="1737" dy="13.8">___月______日前将家具图纸、样品、技术</tspan><tspan x="1737" dy="13.8">资料等材料一式两份，由双方签名或盖章确认</tspan><tspan x="1737" dy="13.8">后作为合同附件。</tspan></text><path class="u" d="M1731 5617.9H1958"/></g>
<g id="c6"><text class="t C" x="1533" y="5785">二、支付方式</text><path class="u" d="M1527 5792.9H1603"/></g>
<g id="c6a"><text class="t C" x="1629" y="5657.6">(一)定金：甲方于______年______月___<tspan x="1629" dy="13.8">___日向乙方支付人民币______元，作为定</tspan><tspan x="1629" dy="13.8">金。</tspan></text><path class="u" d="M1623 5693.4H1851"/></g>
<g id="c6b"><text class="t C" x="1629" y="5733.6">(二)预付款：甲方于______年______月_<tspan x="1629" dy="13.8">_____日向乙方支付人民币______元，作</tspan><tspan x="1629" dy="13.8">为预付款。</tspan></text><path class="u" d="M1623 5768.9H1851"/></g>
<g id="c6c"><text class="t C" x="1629" y="5809">(三)第一次付款：______年______月___<tspan x="1629" dy="13.8">___日付款人民币______元。</tspan></text><path class="u" d="M1623 5830.6H1851"/></g>
<g id="c6c1"><text class="t C" x="1876" y="5809">第二次付款：______年______月_____<tspan x="1876" dy="13.8">_日付款人民币______元。</tspan></text><path class="u" d="M1870 5830.6H2096"/></g>
<g id="c6c2"><text class="t C" x="2123" y="5823.4">补充约定：______。</text><path class="u" d="M2117 5830.6H2236"/></g>
<g id="c6d"><text class="t C" x="1629" y="5870.8">(四)支付方式：『□支票』『□转帐』『□现金<tspan x="1629" dy="13.8">』『□其他』</tspan></text><path class="u" d="M1623 5892.3H1851"/></g>
<g id="c7"><text class="t C" x="1533" y="6015.2">三、家具交付期限、地点与方式、运费结算、<tspan x="1533" dy="13.8">运输风险承担及安装</tspan></text><path class="u" d="M1527 6036.7H1754"/></g>
<g id="c7a"><text class="t C" x="1780" y="6015.2">本合同所订家具按以下第______种方式交(<tspan x="1780" dy="13.8">提)货：</tspan></text><path class="u" d="M1775 6036.7H2001"/></g>
<g id="c7a1"><text class="t C" x="2028" y="5933">(一)乙方于______年______月______日<tspan x="2028" dy="13.8">将家具送到甲方指定地点______区(县)___</tspan><tspan x="2028" dy="13.8">___路______弄______号______室。</tspan></text><path class="u" d="M2022 5967.9H2247"/></g>
<g id="c7a2"><text class="t C" x="2028" y="6008.6">(二)甲方于______年______月______日<tspan x="2028" dy="13.8">到乙方指定地点______自提家具。</tspan></text><path class="u" d="M2022 6030.1H2247"/></g>
<g id="c7a3"><text class="t C" x="2028" y="6097.9">(三)如无特别约定，由乙方负责安装家具。</text><path class="u" d="M2022 6105.6H2233"/></g>
<g id="c7a3a"><text class="t C" x="2260" y="6069.8">乙方送货的，运费及运输途中风险由乙方承担<tspan x="2260" dy="13.8">;甲方自提的，运费及运输途中风险由甲方承</tspan><tspan x="2260" dy="13.8">担。但是甲乙双方有特别约定的除外。</tspan></text><path class="u" d="M2254 6105.6H2480"/></g>
<g id="c8"><text class="t C" x="1533" y="6292.8">四、甲方权利及义务</text><path class="u" d="M1527 6300.5H1637"/></g>
<g id="c8a"><text class="t C" x="1661" y="6145.8">(一)甲方对乙方使用的材料具有检验权。</text><path class="u" d="M1656 6153.6H1857"/></g>
<g id="c8b"><text class="t C" x="1661" y="6193.8">(二)甲方按照合同约定提供家具图纸、样品、<tspan x="1661" dy="13.8">技术要求等材料。</tspan></text><path class="u" d="M1656 6215.3H1882"/></g>
<g id="c8c"><text class="t C" x="1661" y="6255.5">(三)甲方应协助乙方完成工作。</text><path class="u" d="M1656 6263.3H1814"/></g>
<g id="c8d"><text class="t C" x="1661" y="6303">(四)甲方应及时接收家具，并进行检验。</text><path class="u" d="M1656 6310.7H1857"/></g>
<g id="c8e"><text class="t C" x="1661" y="6351">(五)甲方应按照合同约定的时间、方式支付价<tspan x="1661" dy="13.8">款。</tspan></text><path class="u" d="M1656 6372.5H1882"/></g>
<g id="c8f"><text class="t C" x="1661" y="6413.2">(六)在履行合同过程中，甲方有权对家具的质<tspan x="1661" dy="13.8">量、数量等进行监督检验，但是不得妨碍乙方</tspan><tspan x="1661" dy="13.8">的正常工作。</tspan></text><path class="u" d="M1656 6448.5H1882"/></g>
<g id="c9"><text class="t C" x="1533" y="6656.6">五、乙方权利及义务</text><path class="u" d="M1527 6664.3H1637"/></g>
<g id="c9a"><text class="t C" x="1661" y="6488.7">(一)乙方应及时对甲方提供的图纸、样品、技<tspan x="1661" dy="13.8">术资料等的合理性进行确认。</tspan></text><path class="u" d="M1656 6510.2H1882"/></g>
<g id="c9b"><text class="t C" x="1661" y="6550.4">(二)乙方应妥善保管甲方提供的图纸、样品、<tspan x="1661" dy="13.8">技术资料等，并按照甲方的要求保守秘密，未</tspan><tspan x="1661" dy="13.8">经甲方许可，不得留存复制品及技术资料。</tspan></text><path class="u" d="M1656 6585.7H1882"/></g>
<g id="c9c"><text class="t C" x="1661" y="6625.4">(三)乙方交付家具的时候，应提供产品质量合<tspan x="1661" dy="13.8">格证明、使用说明书、&quot;三包&quot;凭证及发票等。</tspan></text><path class="u" d="M1656 6647.4H1882"/></g>
<g id="c9d"><text class="t C" x="1661" y="6687.2">(四)如甲方未支付价款，在双方没有例外约定<tspan x="1661" dy="13.8">时，乙方对完成的家具享有留置权。</tspan></text><path class="u" d="M1656 6709.2H1882"/></g>
<g id="c9e"><text class="t C" x="1661" y="6749.4">(五)乙方应按照合同约定交付家具。</text><path class="u" d="M1656 6757.1H1835"/></g>
<g id="c9f"><text class="t C" x="1661" y="6796.9">(六)未经甲方同意，乙方不得将家具定作的主<tspan x="1661" dy="13.8">要工作交由第三人完成。</tspan></text><path class="u" d="M1656 6818.4H1882"/></g>
<g id="c10"><text class="t C" x="1533" y="6872.4">六、验收</text><path class="u" d="M1527 6880H1582"/></g>
<g id="c10a"><text class="t C" x="1607" y="6858.6">甲方应对家具的用材、数量、商标、规格、色<tspan x="1607" dy="13.8">泽等进行验收，如有异议，及时提出。</tspan></text><path class="u" d="M1602 6880H1828"/></g>
<g id="c11"><text class="t C" x="1533" y="6995.8">七、家具的质量要求、技术标准</text><path class="u" d="M1527 7003.6H1690"/></g>
<g id="c11a"><text class="t C" x="1716" y="6920.3">(一)质量标准：执行□国家/□地方/□企业家具<tspan x="1716" dy="13.8">产品标准。</tspan></text><path class="u" d="M1710 6941.8H1936"/></g>
<g id="c11b"><text class="t C" x="1716" y="6982">(二)安全标准：执行gb18584-xx木家具中有<tspan x="1716" dy="13.8">害物质限量标准。</tspan></text><path class="u" d="M1710 7004H1936"/></g>
<g id="c11c"><text class="t C" x="1716" y="7043.8">(三)售后责任保证：执行(上海家具行业产品&quot;<tspan x="1716" dy="13.8">三包&quot;责任规则)。</tspan></text><path class="u" d="M1710 7065.3H1936"/></g>
<g id="c12"><text class="t C" x="1533" y="7302">八、违约责任</text><path class="u" d="M1527 7309.4H1603"/></g>
<g id="c12a"><text class="t C" x="1629" y="7105.5">(一)因乙方原因造成家具未达质量标准，甲方<tspan x="1629" dy="13.8">有权要求乙方无偿返工或更换，并承担相应的</tspan><tspan x="1629" dy="13.8">违约责任;经乙方返工或更换后，仍未达质量</tspan><tspan x="1629" dy="13.8">标准的，甲方有权解除合同，乙方应赔偿甲方</tspan><tspan x="1629" dy="13.8">相应损失。</tspan></text><path class="u" d="M1623 7168.4H1851"/></g>
<g id="c12b"><text class="t C" x="1629" y="7209.7">(二)乙方交付家具数量不足，甲方有权要求乙<tspan x="1629" dy="13.8">方补齐并承担相应的违约责任。</tspan></text><path class="u" d="M1623 7230.6H1851"/></g>
<g id="c12c"><text class="t C" x="1629" y="7271.4">(三)乙方未经甲方同意逾期交付家具的，应向<tspan x="1629" dy="13.8">甲方支付违约金，______。</tspan></text><path class="u" d="M1623 7292.7H1851"/></g>
<g id="c12d"><text class="t C" x="1629" y="7333">(四)甲方未经乙方同意逾期付款的，应向乙方<tspan x="1629" dy="13.8">支付违约金，______。</tspan></text><path class="u" d="M1623 7354.3H1851"/></g>
<g id="c12e"><text class="t C" x="1629" y="7395">(五)______。</text><path class="u" d="M1623 7402H1706"/></g>
<g id="c12f"><text class="t C" x="1629" y="7442.9">(六)______。</text><path class="u" d="M1623 7449.8H1706"/></g>
<g id="c13"><text class="t C" x="1533" y="7504.5">九、变更与解除</text><path class="u" d="M1527 7511.5H1614"/></g>
<g id="c13a"><text class="t C" x="1640" y="7490.1">甲方中途变更或解除合同，应书面通知乙方。<tspan x="1640" dy="13.8">如给乙方造成损失的，应赔偿相应损失。</tspan></text><path class="u" d="M1635 7511.5H1861"/></g>
<g id="c14"><text class="t C" x="1533" y="7632.5">十、不可抗力</text><path class="u" d="M1527 7639.5H1603"/></g>
<g id="c14a"><text class="t C" x="1629" y="7551.8">(一)任何一方因不可抗力造成全部或部分不能<tspan x="1629" dy="13.8">履行合同的，可免除相应责任。但是迟延履行</tspan><tspan x="1629" dy="13.8">后发生不可抗力的，不能免除责任。</tspan></text><path class="u" d="M1623 7587.4H1851"/></g>
<g id="c14b"><text class="t C" x="1629" y="7671.2">(二)遇有不可抗力的一方，应及时书面通知对<tspan x="1629" dy="13.8">方。</tspan></text><path class="u" d="M1623 7692H1851"/></g>
<g id="c14b1"><text class="t C" x="1876" y="7627.7">十一、争议解决</text><path class="u" d="M1870 7635.2H1957"/></g>
<g id="c14b2"><text class="t C" x="1876" y="7728">发生的争议，由双方协商解决;也可请求调解;<tspan x="1876" dy="13.8">或选择下列方式第______种方式解决：</tspan></text><path class="u" d="M1870 7749.4H2096"/></g>
<g id="c14b2a"><text class="t C" x="2123" y="7675.5">1.提请上海仲裁委员会仲裁。</text><path class="u" d="M2117 7683H2267"/></g>
<g id="c14b2b"><text class="t C" x="2123" y="7809.3">2.依法向人民法院提请起诉。</text><path class="u" d="M2117 7816.7H2267"/></g>
<g id="c14b2b1"><text class="t C" x="2291" y="7723.3">十二、其他事项</text><path class="u" d="M2286 7730.3H2373"/></g>
<g id="c14b2b2"><text class="t C" x="2291" y="7771">十三、本合同一式______份，甲、乙双方<tspan x="2291" dy="13.8">各执______份。</tspan></text><path class="u" d="M2286 7792.8H2513"/></g>
<g id="c14b2b3"><text class="t C" x="2291" y="7833">定作人(甲方)(签名或盖章)：______ 承揽人(<tspan x="2291" dy="13.8">乙方)(盖章)：______</tspan></text><path class="u" d="M2286 7854.4H2513"/></g>
<g id="c14b2b4"><text class="t C" x="2291" y="7894.3">地址：______ 地址：______</text><path class="u" d="M2286 7902.2H2453"/></g>
</g>

<g id="sec-l2">
<g id="d1"><text class="t P e" x="707" y="2066.7">进口板中最出名的就是爱格板。</text><path class="u" d="M551 2076.2H713"/></g>
<g id="d2"><text class="t P e" x="707" y="2115.3">爱格板</text><path class="u" d="M670 2124.7H713"/></g>
<g id="d3"><text class="t P e" x="707" y="2162.8">爱格板定制的茶几</text><path class="u" d="M617 2172.2H713"/></g>
<g id="d4"><text class="t P" x="491.6" y="2210.3">除了爱格板，还有3种我所知道的进口板材，<tspan x="491.6" dy="13.5">跟大家分享一下。</tspan></text><path class="u" d="M486.7 2234.2H713"/></g>
<g id="d5"><text class="t P" x="491.6" y="2272.3">第1种叫克诺斯邦板材，和爱格板一样也是实<tspan x="491.6" dy="13.5">木颗粒板。知乎有人说克诺斯邦板是欧洲板材</tspan><tspan x="491.6" dy="13.5">品牌中的老大，市场份额是高过爱格板的，但</tspan><tspan x="491.6" dy="13.5">是不知道为什么，这家板材商前些年把中国市</tspan><tspan x="491.6" dy="13.5">场给忽略了，然后爱格板在中国热乎地快上天</tspan><tspan x="491.6" dy="13.5">了，克诺斯邦才想起有中国这个市场。据我了</tspan><tspan x="491.6" dy="13.5">解，克诺斯邦板厂商，和“卢森地板”应该是同</tspan><tspan x="491.6" dy="13.5">一家集团的。</tspan></text><path class="u" d="M486.7 2377.9H713"/></g>
<g id="d6"><text class="t P e" x="707" y="2418">克洛斯邦实木颗粒板</text><path class="u" d="M606 2427.5H713"/></g>
<g id="d7"><text class="t P e" x="707" y="2466.6">丽维家橱柜</text><path class="u" d="M649 2476H713"/></g>
<g id="d8"><text class="t P" x="491.6" y="2514.1">第2种是德盛板材。这是百强家具主打的板材<tspan x="491.6" dy="13.5">。这个板是欧洲芯，中国皮，也就是说，板材</tspan><tspan x="491.6" dy="13.5">是欧洲进口的，但是面板贴皮是国内加工的。</tspan><tspan x="491.6" dy="13.5">这个板的特质是里面有三种料填充，说是稳定</tspan><tspan x="491.6" dy="13.5">性比较结实。</tspan></text><path class="u" d="M486.7 2577.3H713"/></g>
<g id="d9"><text class="t P" x="491.6" y="2617.4">我对百强的印象还是不错的，板材和家具质量<tspan x="491.6" dy="13.5">过关，经常做活动，性价比很不错。但是百强</tspan><tspan x="491.6" dy="13.5">主打的这款板材呢，设计、花色和门型可选择</tspan><tspan x="491.6" dy="13.5">的余地不多。所以需要提前想好装修风格及配</tspan><tspan x="491.6" dy="13.5">饰，同时也非常考究门店设计师功底了。</tspan></text><path class="u" d="M486.7 2680.6H713"/></g>
<g id="d10"><text class="t P" x="491.6" y="2720.7">下面配图是百强家具的经典色。很喜欢这家家<tspan x="491.6" dy="13.5">具的性价比，但是这种颜色我本人实在Hold</tspan><tspan x="491.6" dy="13.5">不住。</tspan></text><path class="u" d="M486.7 2757H713"/></g>
<g id="d11"><text class="t P e" x="707" y="2796.2">百强家具</text><path class="u" d="M658 2805.6H713"/></g>
<g id="d12"><text class="t P" x="491.6" y="2843.7">第3种是我见过的欧琳的实木颗粒板。欧琳整<tspan x="491.6" dy="13.5">体橱柜选用的板材说是他们自己家的，里面的</tspan><tspan x="491.6" dy="13.5">实木颗粒说是用的“新西兰进口松木”，我看觉</tspan><tspan x="491.6" dy="13.5">得质量很不错。</tspan></text><path class="u" d="M486.7 2895.5H713"/></g>
<g id="d13"><text class="t P" x="491.6" y="2933.6">那个板子泡在水里很久，水的颜色还很浅，而<tspan x="491.6" dy="13.5">且销售人员敢把水喝下去。甲醛是无色的，但</tspan><tspan x="491.6" dy="13.5">是有刺激性气味，我反正闻不到水里的气味。</tspan></text><path class="u" d="M486.7 2969.9H713"/></g>
<g id="d14"><text class="t P" x="491.6" y="3009">但是我舍不得用欧琳，前前后后用了团购中的<tspan x="491.6" dy="13.5">折扣，最后测量的价格大概是在一万八左右。</tspan><tspan x="491.6" dy="13.5">欧琳是做整体厨房的，橱柜，水槽，龙头，电</tspan><tspan x="491.6" dy="13.5">器全套都有。这应该是一个比较高端的品牌了</tspan><tspan x="491.6" dy="13.5">，有土豪的朋友，可以考虑一下。欧琳家的水</tspan><tspan x="491.6" dy="13.5">槽和抽拉龙头很不错。</tspan></text><path class="u" d="M486.7 3086.6H713"/></g>
<g id="d15"><text class="t P e" x="707" y="3125.8">欧琳整体厨房</text><path class="u" d="M637 3135.2H713"/></g>
</g>

<g id="sec-l4">
<g id="f1"><text class="t R e" x="707" y="3174.3">甲方：</text><path class="u" d="M670 3182.7H713"/></g>
<g id="f1a"><text class="t R e" x="652" y="3174.3">乙方：(以下简单称乙方)</text><path class="u" d="M523 3182.7H660"/></g>
<g id="f2"><text class="t R" x="491.6" y="3617.6">经双方接洽，甲方委托乙方制作全房家具，特<tspan x="491.6" dy="13.5">签订以下协议：</tspan></text><path class="u" d="M486.7 3641.5H713"/></g>
<g id="f2a"><text class="t R e" x="455" y="3222">一、合同内容：</text><path class="u" d="M384 3230H466"/></g>
<g id="f2a1"><text class="t R e" x="354" y="3222">见制作图纸及清单(定单后不予修改)；</text><path class="u" d="M177.5 3230H370"/></g>
<g id="f2b"><text class="t R e" x="455" y="3269.4">二、材质要求：</text><path class="u" d="M384 3277.8H466"/></g>
<g id="f2b1"><text class="t R e" x="354" y="3269.4">E1级国家认证环保实木颗粒板材料制作；</text><path class="u" d="M162 3277.8H370"/></g>
<g id="f2c"><text class="t R e" x="455" y="3415">三、加工、验收、售后服务模式：</text><path class="u" d="M292.6 3423.4H466"/></g>
<g id="f2c1"><text class="t R" x="51.4" y="3316.9">乙方负责包工包料制作，应严格依照协议要求<tspan x="51.4" dy="13.5">采用原材料，并接受甲方检验。以甲方认可的</tspan><tspan x="51.4" dy="13.5">图纸、材质为准，尺寸有2mm以内误差属正</tspan><tspan x="51.4" dy="13.5">常。与墙之间2mm以内间隙属正常。乙方隐</tspan><tspan x="51.4" dy="13.5">瞒原材料的参数或者使用不依照协议要求的原</tspan><tspan x="51.4" dy="13.5">材料而妨碍货物的品质时，甲方有权规定重做</tspan><tspan x="51.4" dy="13.5">、修理。保证品质。在保修期内如发生质量问</tspan><tspan x="51.4" dy="13.5">题，乙方应免费维修(包含材料费和工时费)。</tspan></text><path class="u" d="M46.5 3423.4H285"/></g>
<g id="f2d"><text class="t R e" x="455" y="3504">四、交货时间及地点：</text><path class="u" d="M347 3513.3H466"/></g>
<g id="f2d1"><text class="t R" x="106" y="3462.6">在甲付给卖方定金之日起30日内交货。交货<tspan x="106" dy="13.5">直接送到房东家中，因制作推迟或货物质量问</tspan><tspan x="106" dy="13.5">题导致推迟问题，每逾期一天乙方向丙方缴纳</tspan><tspan x="106" dy="13.5">违约金千分之一。</tspan></text><path class="u" d="M101 3513.3H340"/></g>
<g id="f2e"><text class="t R e" x="455" y="3645.5">五、付款形式及期限：</text><path class="u" d="M347 3655H466"/></g>
<g id="f2e1"><text class="t R" x="106" y="3552.5">整体家具定制总款：____元，签定协议甲付<tspan x="106" dy="13.5">给卖方60%定金：元，厂家开始制做制作。</tspan><tspan x="106" dy="13.5">交货安装完工甲方验收合格即支付卖方40%</tspan><tspan x="106" dy="13.5">余款：______元。</tspan></text><path class="u" d="M101 3602.2H327.5"/></g>
<g id="f2e2"><text class="t R" x="106" y="3641.3">总价款均以家具建筑面积计价。计算具体总对<tspan x="106" dy="13.5">价后签订合同。合同签署交厂后不予取消。交</tspan><tspan x="106" dy="13.5">货完毕后两天之内还清款项，每逾期一天甲方</tspan><tspan x="106" dy="13.5">向卖方收取赔偿金千分之一。十五天内未还清</tspan><tspan x="106" dy="13.5">款项。乙方有权将货物拆装反厂，定金做废；</tspan></text><path class="u" d="M101 3705.1H327.5"/></g>
<g id="f2f"><text class="t R e" x="455" y="3801">六、违约责任：</text><path class="u" d="M379.6 3809.4H466"/></g>
<g id="f2f1"><text class="t R" x="139" y="3745.3">甲方如中途更改订做，应退还乙方因此导致的<tspan x="139" dy="13.5">代价。甲方如因故废址合同，应退还乙方因此</tspan><tspan x="139" dy="13.5">导致的全部经济代价。乙方如因故更改订做，</tspan><tspan x="139" dy="13.5">应退还甲方因此导致的代价。乙方如因故废址</tspan><tspan x="139" dy="13.5">合同，应退还甲方因此导致的全部经济代价。</tspan></text><path class="u" d="M133.5 3809.4H370"/></g>
<g id="f2g"><text class="t R e" x="460" y="3928">七、争议或纠纷处理</text><path class="u" d="M358 3936.5H466"/></g>
<g id="f2g1"><text class="t R" x="116.3" y="3848.6">本协议在履行之后，双方出现纠纷时，在不妨<tspan x="116.3" dy="13.5">碍加工进度的前提下，双方可实行协商解决或</tspan><tspan x="116.3" dy="13.5">请有关部门进行调解。</tspan></text><path class="u" d="M111.4 3884.9H338"/></g>
<g id="f2g2"><text class="t R" x="116.3" y="3924">当事人不愿通过协商、调解解决以及协商、调<tspan x="116.3" dy="13.5">解不成时，本合同在执行中发生的纠纷双方批</tspan><tspan x="116.3" dy="13.5">准由当地诉讼委员会仲裁，当事人不在本协议</tspan><tspan x="116.3" dy="13.5">承诺仲裁机构，事后又没有签署书面仲裁协定</tspan><tspan x="116.3" dy="13.5">的，可向人民法庭上诉。</tspan></text><path class="u" d="M111.4 3988.2H338"/></g>
<g id="f2h"><text class="t R" x="244.9" y="4027.3">八、本协议如有未尽事宜，须经过双方协商修<tspan x="244.9" dy="13.5">订，协商不成按协议法有关条例执行。</tspan></text><path class="u" d="M238.8 4049.1H466"/></g>
<g id="f3"><text class="t R e" x="707" y="4089.3">甲方：</text><path class="u" d="M670 4097.7H713"/></g>
<g id="f4"><text class="t R e" x="707" y="4136.8">乙方：</text><path class="u" d="M670 4145.2H713"/></g>
<g id="f5"><text class="t R e" x="707" y="4184.4">日期：</text><path class="u" d="M670 4192.8H713"/></g>
</g>

<g id="sec-l6">
<g id="g1"><text class="t K" x="491.6" y="4232.9">各品牌各有各的好，各有各的坏。重环保的不<tspan x="491.6" dy="13.5">重花色，重花色的不重质量，重质量的不重设</tspan><tspan x="491.6" dy="13.5">计，重设计的不重车间。这几个方面都不错的</tspan><tspan x="491.6" dy="13.5">，价格肯定不会低了。</tspan></text><path class="u" d="M486.7 4282.7H713"/></g>
<g id="g2"><text class="t K" x="491.6" y="4321.8">所以，目前为止，我也没有找到一家全屋定制<tspan x="491.6" dy="13.5">品牌能够兼顾性价比、设计、环保和质量。</tspan></text><path class="u" d="M486.7 4344.6H713"/></g>
<g id="g3"><text class="t K" x="491.6" y="4383.8">除了前面提过的丽维家、欧琳、百强、百得胜<tspan x="491.6" dy="13.5">，还有我知道的几个品牌，个人点评一下。供</tspan><tspan x="491.6" dy="13.5">大家参考，不足之处，大家一一指出，共同分</tspan><tspan x="491.6" dy="13.5">享。</tspan></text><path class="u" d="M486.7 4434.5H713"/></g>
<g id="g4"><text class="t K" x="491.6" y="4473.7">曲美 有实木、板木结合、板材三种家具，板<tspan x="491.6" dy="13.5">材家具主要为可以移动的桌椅、沙发、茶几等</tspan><tspan x="491.6" dy="13.5">，定制也是才推出不久的服务。</tspan></text><path class="u" d="M486.7 4510H713"/></g>
<g id="g5"><text class="t K" x="491.6" y="4549">我最早选择曲美做定制家具服务，后来看到有<tspan x="491.6" dy="13.5">环保准标更高的爱格板后，改选爱格板。曲美</tspan><tspan x="491.6" dy="13.5">板材的环保标准应该和露水河板差不多。我身</tspan><tspan x="491.6" dy="13.5">边有几位朋友用的是曲美的家具定制，家具进</tspan><tspan x="491.6" dy="13.5">场没多久就搬进去住了，边住边通风散味，其</tspan><tspan x="491.6" dy="13.5">中一家还有个两岁多的小朋友。</tspan></text><path class="u" d="M486.7 4627.7H713"/></g>
<g id="g6"><text class="t K" x="491.6" y="4665.8">有销售告诉我，曲美用的应该是福建大亚的板<tspan x="491.6" dy="13.5">子。但是曲美自己说是自己的板子，其实生产</tspan><tspan x="491.6" dy="13.5">板材是个很大的流水线，一般的家具企业不会</tspan><tspan x="491.6" dy="13.5">做上游产业的。</tspan></text><path class="u" d="M486.7 4716.6H713"/></g>
<g id="g7"><text class="t K e" x="707" y="4755.7">曲美定制展厅</text><path class="u" d="M637 4764.1H713"/></g>
<g id="g8"><text class="t K" x="491.6" y="4804.3">但是曲美的质量和做工，还有美观性是很好的<tspan x="491.6" dy="13.5">。板材家具中，曲美也算是独树一帜，从来都</tspan><tspan x="491.6" dy="13.5">是自己开店面，所以价格自然也高。东西不错</tspan><tspan x="491.6" dy="13.5">，价格中上，值得选购。曲美很少做折扣，赶</tspan><tspan x="491.6" dy="13.5">上做活动的时候，入一些成品家具，还是很不</tspan><tspan x="491.6" dy="13.5">错的。</tspan></text><path class="u" d="M486.7 4881.9H713"/></g>
<g id="g9"><text class="t K e" x="707" y="4921">曲美茶几</text><path class="u" d="M658 4929.4H713"/></g>
<g id="g10"><text class="t K" x="491.6" y="4968.5">红苹果 作为香港的一个品牌，能够持续到现<tspan x="491.6" dy="13.5">在，东西质量还是靠得住的。红苹果的环保标</tspan><tspan x="491.6" dy="13.5">准和曲美差不多在同一水平线上，所以两家的</tspan><tspan x="491.6" dy="13.5">价格也相差不多。</tspan></text><path class="u" d="M486.7 5019.3H713"/></g>
<g id="g11"><text class="t K" x="491.6" y="5058.5">但红苹果做定制的经验比曲美更久更多，曲美<tspan x="491.6" dy="13.5">还是成品多一些。红苹果不仅做家具，还做软</tspan><tspan x="491.6" dy="13.5">装，做整体布置方案设计。</tspan></text><path class="u" d="M486.7 5094.7H713"/></g>
<g id="g12"><text class="t K" x="491.6" y="5133.9">这些让我觉得很有吸引力，我觉得可以很放心<tspan x="491.6" dy="13.5">的把家给他们去设计，交了订金，已经量了房</tspan><tspan x="491.6" dy="13.5">，做了两版设计。后来还是退了，是因为看多</tspan><tspan x="491.6" dy="13.5">了家具以后，发现这个品牌的款式、花色实在</tspan><tspan x="491.6" dy="13.5">有点旧和传统了。</tspan></text><path class="u" d="M486.7 5198.1H713"/></g>
<g id="g13"><text class="t K e" x="707" y="5238.2">红苹果天猫店宣传图</text><path class="u" d="M606 5246.6H713"/></g>
</g>

<g id="watermarks">
<text class="wm" transform="translate(349 690) rotate(-30.5)">树图 shutu.cn</text>
<text class="wm" transform="translate(349 1690) rotate(-30.5)">树图 shutu.cn</text>
<text class="wm" transform="translate(349 2690) rotate(-30.5)">树图 shutu.cn</text>
<text class="wm" transform="translate(349 3690) rotate(-30.5)">树图 shutu.cn</text>
<text class="wm" transform="translate(349 4690) rotate(-30.5)">树图 shutu.cn</text>
<text class="wm" transform="translate(349 5690) rotate(-30.5)">树图 shutu.cn</text>
<text class="wm" transform="translate(349 6690) rotate(-30.5)">树图 shutu.cn</text>
<text class="wm" transform="translate(349 7690) rotate(-30.5)">树图 shutu.cn</text>
<text class="wm" transform="translate(1640 690) rotate(-30.5)">树图 shutu.cn</text>
<text class="wm" transform="translate(1640 1690) rotate(-30.5)">树图 shutu.cn</text>
<text class="wm" transform="translate(1640 2690) rotate(-30.5)">树图 shutu.cn</text>
<text class="wm" transform="translate(1640 3690) rotate(-30.5)">树图 shutu.cn</text>
<text class="wm" transform="translate(1640 4690) rotate(-30.5)">树图 shutu.cn</text>
<text class="wm" transform="translate(1640 5690) rotate(-30.5)">树图 shutu.cn</text>
<text class="wm" transform="translate(1640 6690) rotate(-30.5)">树图 shutu.cn</text>
<text class="wm" transform="translate(1640 7690) rotate(-30.5)">树图 shutu.cn</text>
</g>
</g>
</svg>
